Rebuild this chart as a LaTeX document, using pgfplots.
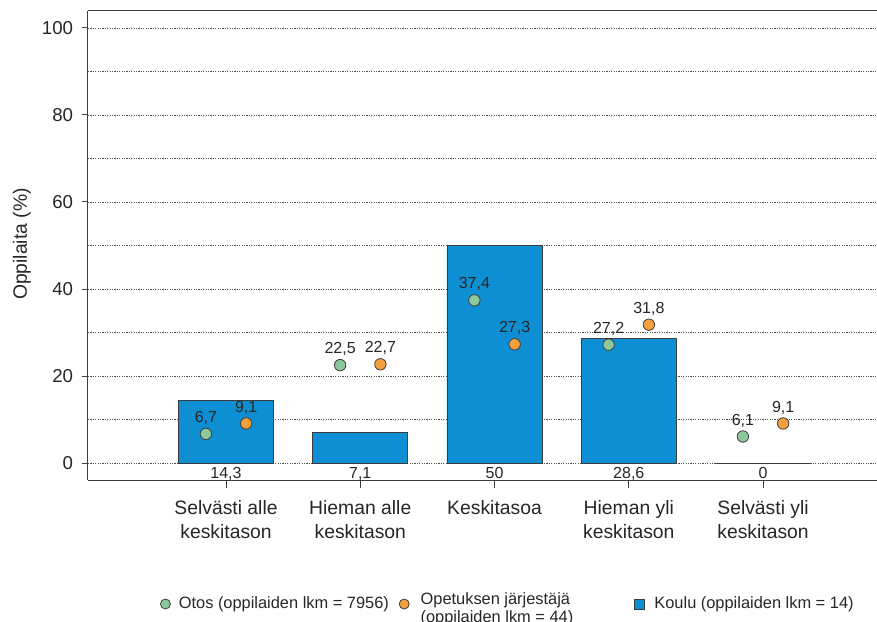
\documentclass[border=0pt]{standalone}
\usepackage{fontspec}
\setmainfont{Liberation Sans}
\usepackage{pgfplots}
\pgfplotsset{compat=1.18}
\definecolor{koulu}{RGB}{14,143,212}
\definecolor{otos}{RGB}{140,200,155}
\definecolor{opet}{RGB}{245,160,60}
\definecolor{edge}{RGB}{60,60,60}
\definecolor{gridc}{RGB}{80,80,80}
\begin{document}
\begin{tikzpicture}
\useasboundingbox (-66pt,-105.75pt) rectangle (591.75pt,360pt);
\begin{axis}[
  at={(0,0)}, anchor=south west,
  scale only axis, width=591.75pt, height=351.75pt,
  xmin=-1.028, xmax=4.849, ymin=-3.9, ymax=103.9,
  axis x line=box, axis y line=left,
  axis line style={edge, line width=0.75pt, -},
  xtick pos=bottom, ytick pos=left,
  tick align=outside,
  xtick={0,1,2,3,4},
  xticklabels={Selvästi alle\\keskitason, Hieman alle\\keskitason, Keskitasoa, Hieman yli\\keskitason, Selvästi yli\\keskitason},
  ytick={0,20,...,100},
  minor ytick={10,30,...,90},
  minor tick length=0pt,
  xtick style={edge, line width=0.75pt, /pgfplots/major tick length=6pt},
  ytick style={edge, line width=0.75pt, /pgfplots/major tick length=4.5pt},
  ymajorgrids, yminorgrids,
  major grid style={gridc, dash pattern=on 0.9pt off 0.9pt, line width=0.5pt},
  minor grid style={gridc, dash pattern=on 0.9pt off 0.9pt, line width=0.5pt},
  yticklabel style={font=\fontsize{14}{16}\selectfont, text=black!85, inner sep=0pt, xshift=-6.75pt},
  xticklabel style={font=\fontsize{14.5}{18}\selectfont, text=black!85, align=center, inner sep=0pt, yshift=-11pt},
  ylabel={Oppilaita (\%)},
  ylabel style={at={(axis description cs:-0.0837,0.503)}, anchor=center, font=\fontsize{14.5}{16}\selectfont, text=black!85},
  /pgf/number format/assume math mode=true,
  /pgf/number format/use comma,
  /pgf/number format/fixed,
  /pgf/number format/precision=1,
  legend columns=3,
  legend cell align=left,
  legend style={at={(0.0913,-0.2644)}, anchor=west, draw=none, fill=none,
    inner sep=0pt, outer sep=0pt, column sep=0pt, row sep=0pt,
    nodes={inner sep=0pt, outer sep=0pt},
    font=\fontsize{12.3}{13.5}\selectfont, text=black!85},
]
% Koulu bars
\addplot[ybar, bar width=0.708, fill=koulu, draw=edge, line width=0.6pt, forget plot]
  coordinates {(0,14.3) (1,7.1) (2,50) (3,28.6) (4,0)};
% bar value labels under zero line
\addplot[only marks, mark=none, point meta=explicit, nodes near coords,
  every node near coord/.append style={anchor=north, yshift=-3pt, inner sep=0pt, font=\fontsize{12}{14}\selectfont, text=black!85},
  forget plot]
  coordinates {(0,0)[14.3] (1,0)[7.1] (2,0)[50] (3,0)[28.6] (4,0)[0]};
% Otos
\addplot[only marks, mark=*, mark size=4.3pt, mark options={fill=otos, draw=edge, line width=0.6pt},
  nodes near coords,
  every node near coord/.append style={anchor=base, yshift=8.5pt, inner sep=0pt, font=\fontsize{12}{14}\selectfont, text=black!85},
  forget plot]
  coordinates {(-0.15,6.7) (0.85,22.5) (1.85,37.4) (2.85,27.2) (3.85,6.1)};
% Opetuksen jarjestaja
\addplot[only marks, mark=*, mark size=4.3pt, mark options={fill=opet, draw=edge, line width=0.6pt},
  nodes near coords,
  every node near coord/.append style={anchor=base, yshift=8.5pt, inner sep=0pt, font=\fontsize{12}{14}\selectfont, text=black!85},
  forget plot]
  coordinates {(0.15,9.1) (1.15,22.7) (2.15,27.3) (3.15,31.8) (4.15,9.1)};
\addlegendimage{legend image code/.code={\filldraw[fill=otos,draw=edge,line width=0.6pt] (3.75pt,0pt) circle (3.75pt);}}
\addlegendentry{\makebox[171pt][l]{\hspace{6pt}Otos (oppilaiden lkm = 7956)}}
\addlegendimage{legend image code/.code={\filldraw[fill=opet,draw=edge,line width=0.6pt] (3.75pt,0pt) circle (3.75pt);}}
\addlegendentry{\makebox[168pt][l]{\hspace{8.25pt}\begin{tabular}{@{}l@{}}Opetuksen järjestäjä\\(oppilaiden lkm = 44)\end{tabular}}}
\addlegendimage{legend image code/.code={\filldraw[fill=koulu,draw=edge,line width=0.6pt] (0pt,-3.75pt) rectangle (7.5pt,3.75pt);}}
\addlegendentry{\hspace{7.5pt}Koulu (oppilaiden lkm = 14)}
\end{axis}
\end{tikzpicture}
\end{document}
